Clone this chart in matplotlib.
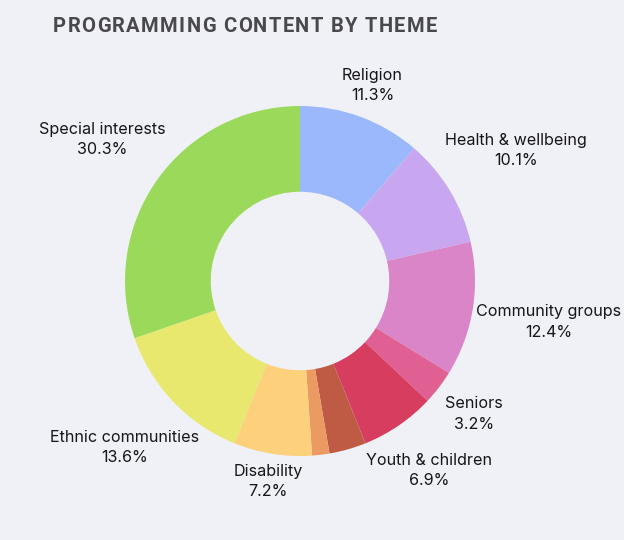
import numpy as np
import matplotlib.pyplot as plt

plt.rcParams['font.family'] = ['Inter', 'DejaVu Sans']

# data
themes = ['Religion', 'Health & wellbeing', 'Community groups', 'Seniors',
          'Youth & children', '', '', 'Disability', 'Ethnic communities',
          'Special interests']
shares = [11.3, 10.1, 12.4, 3.2, 6.9, 3.4, 1.6, 7.2, 13.6, 30.3]
colors = ['#9ab8fb', '#c9a6f0', '#d985c8', '#e06093', '#d63d5e',
          '#bf5a45', '#eb9b62', '#fdd07b', '#e8e86e', '#9bd95b']
label_dist = [1.19, 1.44, 1.44, 1.25, 1.31, 0, 0, 1.16, 1.38, 1.39]
title = 'PROGRAMMING CONTENT BY THEME'

bg = '#f0f1f6'
fig = plt.figure(figsize=(6.24, 5.4), dpi=100, facecolor=bg)
ax = fig.add_axes([125/624, 1 - 456/540, 350/624, 350/540])
ax.set_facecolor(bg)

wedges, _ = ax.pie(shares, colors=colors, startangle=90, counterclock=False,
                   wedgeprops=dict(width=0.49, edgecolor='none'))
ax.set_xlim(-1, 1)
ax.set_ylim(-1, 1)
ax.set_aspect('equal')
ax.axis('off')

for w, name, val, d in zip(wedges, themes, shares, label_dist):
    if not name:
        continue
    ang = np.deg2rad((w.theta1 + w.theta2) / 2)
    ax.text(d * np.cos(ang), d * np.sin(ang), '%s\n%.1f%%' % (name, val),
            ha='center', va='center', fontsize=11.6, color='#16161a',
            linespacing=1.42, clip_on=False)

# title with letter spacing: place each character by hand
r = fig.canvas.get_renderer()
tkw = dict(fontsize=14.5, fontweight='bold', color='#48484d', va='baseline', ha='left',
           family='Roboto')
def w_of(s):
    t = fig.text(0, 0, s + '|', **tkw)
    w = t.get_window_extent(r).width
    t.remove()
    return w
bar_w = w_of('')
x0, x1, yt = 53, 437, 540 - 32.5
natural = w_of(title) - bar_w
gap = (x1 - x0 - natural) / (len(title) - 1)
for i, ch in enumerate(title):
    if ch == ' ':
        continue
    px = x0 + (w_of(title[:i]) - bar_w) + i * gap
    fig.text(px / 624, yt / 540, ch, **tkw)

plt.savefig('out.png', dpi=100, facecolor=bg)
